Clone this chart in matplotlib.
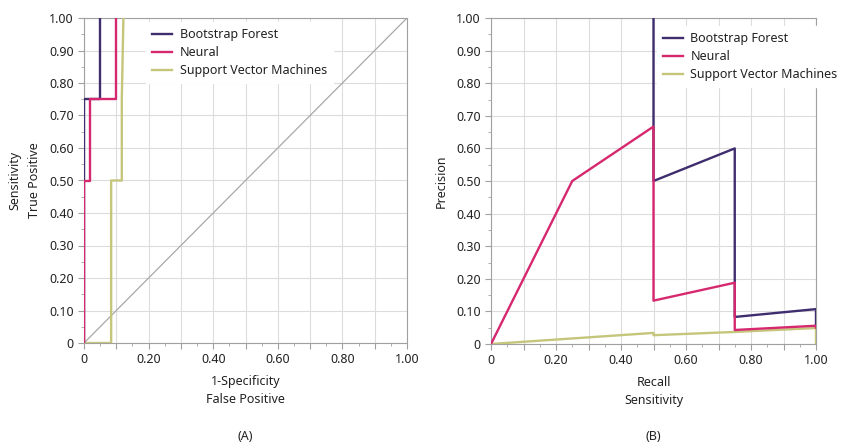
import matplotlib
matplotlib.use("Agg")
import matplotlib.pyplot as plt
from matplotlib.ticker import MultipleLocator, FuncFormatter

plt.rcParams['font.family'] = ['Noto Sans', 'DejaVu Sans']

series_names = ["Bootstrap Forest", "Neural", "Support Vector Machines"]
colors = ["#3f2d6e", "#d6286f", "#c5c57c"]

# ROC curves (1-Specificity, Sensitivity)
roc_bf_x = [0.0, 0.0, 0.05, 0.05]
roc_bf_y = [0.0, 0.75, 0.75, 1.0]
roc_nn_x = [0.0, 0.0, 0.019, 0.019, 0.099, 0.099]
roc_nn_y = [0.0, 0.5, 0.5, 0.75, 0.75, 1.0]
roc_svm_x = [0.0, 0.084, 0.084, 0.117, 0.117, 0.122]
roc_svm_y = [0.0, 0.0, 0.5, 0.5, 0.75, 1.0]

# Precision-Recall curves
pr_bf_x = [0.5, 0.5, 0.75, 0.75, 1.0, 1.0]
pr_bf_y = [1.0, 0.5, 0.6, 0.083, 0.107, 0.05]
pr_nn_x = [0.0, 0.25, 0.5, 0.5, 0.75, 0.75, 1.0, 1.0]
pr_nn_y = [0.0, 0.5, 0.667, 0.133, 0.188, 0.043, 0.056, 0.05]
pr_svm_x = [0.0, 0.5, 0.5, 0.75, 1.0, 1.0]
pr_svm_y = [0.0, 0.034, 0.027, 0.037, 0.049, 0.0]

fig = plt.figure(figsize=(8.49, 4.45), dpi=100)
ax1 = fig.add_axes([84/849, 1-343/445, 323/849, 325/445])
ax2 = fig.add_axes([491/849, 1-344/445, 325/849, 326/445])

def xfmt(v, p):
    if abs(v) < 1e-9:
        return "0"
    r = round(v * 10)
    if r % 2 == 0:
        return f"{v:.2f}"
    return ""

def yfmt(v, p):
    if abs(v) < 1e-9:
        return "0"
    return f"{v:.2f}"

for ax in (ax1, ax2):
    ax.set_xlim(0, 1)
    ax.set_ylim(0, 1)
    ax.xaxis.set_major_locator(MultipleLocator(0.1))
    ax.xaxis.set_minor_locator(MultipleLocator(0.05))
    ax.yaxis.set_major_locator(MultipleLocator(0.1))
    ax.yaxis.set_minor_locator(MultipleLocator(0.05))
    ax.xaxis.set_major_formatter(FuncFormatter(xfmt))
    ax.yaxis.set_major_formatter(FuncFormatter(yfmt))
    ax.grid(True, which='major', color='#dcdcdc', linewidth=0.8)
    ax.set_axisbelow(True)
    for s in ax.spines.values():
        s.set_color('#a0a0a0')
        s.set_linewidth(0.8)
    ax.tick_params(which='both', direction='out', colors='#a0a0a0', labelcolor='#222222', labelsize=9)
    ax.tick_params(which='major', length=4)
    ax.tick_params(which='minor', length=2.5)

ax1.plot([0, 1], [0, 1], color='#a8a8a8', linewidth=0.9, zorder=2)
ax1.plot(roc_bf_x, roc_bf_y, color=colors[0], linewidth=1.7, label=series_names[0], zorder=3)
ax1.plot(roc_nn_x, roc_nn_y, color=colors[1], linewidth=1.7, label=series_names[1], zorder=4)
ax1.plot(roc_svm_x, roc_svm_y, color=colors[2], linewidth=1.7, label=series_names[2], zorder=3)

ax2.plot(pr_bf_x, pr_bf_y, color=colors[0], linewidth=1.7, label=series_names[0], zorder=3)
ax2.plot(pr_nn_x, pr_nn_y, color=colors[1], linewidth=1.7, label=series_names[1], zorder=4)
ax2.plot(pr_svm_x, pr_svm_y, color=colors[2], linewidth=1.7, label=series_names[2], zorder=3)

for ax, anchor in ((ax1, (0.172, 1.007)), (ax2, (0.49, 0.995))):
    leg = ax.legend(loc='upper left', bbox_to_anchor=anchor, frameon=True, fancybox=False,
                    framealpha=1, edgecolor='white', fontsize=9, handlelength=1.6,
                    handletextpad=0.6, labelspacing=0.4, borderpad=0.5)
    for t in leg.get_texts():
        t.set_color('#222222')

ax1.set_xlabel("1-Specificity\nFalse Positive", fontsize=9, color='#222222', labelpad=6, linespacing=1.55)
ax1.set_ylabel("Sensitivity\nTrue Positive", fontsize=9, color='#222222', labelpad=6, linespacing=1.6)
ax2.set_xlabel("Recall\nSensitivity", fontsize=9, color='#222222', labelpad=6, linespacing=1.55)
ax2.set_ylabel("Precision", fontsize=9, color='#222222', labelpad=6)

fig.text(245/849, 1-436/445, "(A)", ha='center', va='center', fontsize=9, color='#222222')
fig.text(653/849, 1-436/445, "(B)", ha='center', va='center', fontsize=9, color='#222222')

fig.savefig("out.png", dpi=100)
